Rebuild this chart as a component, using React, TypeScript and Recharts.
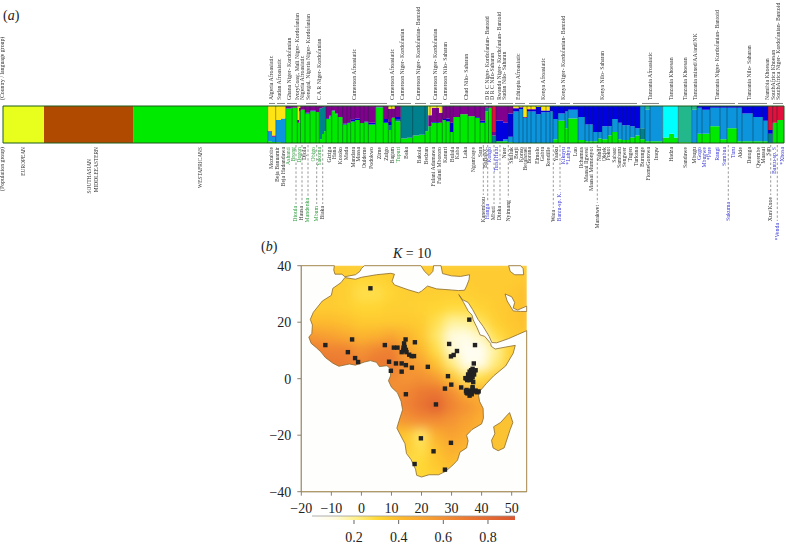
import React from 'react';
import { AreaChart, Area, XAxis, YAxis, ReferenceLine, ReferenceArea, ScatterChart, Scatter } from 'recharts';

const SERIF = '"Liberation Serif", "Times New Roman", serif';

// ---- structure bar: each row is [left edge, green, teal, lightBlue, blue, purple, yellow, cyan, seaGreen, red, lime, brown]
const seriesKeys = ['green', 'teal', 'lightBlue', 'blue', 'purple', 'yellow', 'cyan', 'seaGreen', 'red', 'lime', 'brown'];
const seriesColors = ['#00ea00', '#00808c', '#0c94dc', '#0000e0', '#82008e', '#ffe414', '#00ffff', '#22b88c', '#e2103c', '#e8ff1e', '#b04a00'];

const referenceRows = [
  [3, 0, 0, 0, 0, 0, 0, 0, 0, 0, 100, 0],
  [44, 0, 0, 0, 0, 0, 0, 0, 0, 0, 0, 100],
  [133.5, 100],
];
const northRows = [
  [267.7, 5, 0, 26, 0, 2, 67],
  [272, 3, 0, 14, 0, 3, 80],
  [275.7, 2, 0, 60, 0, 0, 38],
  [281, 0, 0, 66, 0, 0, 34],
  [285.7, 92, 2, 0, 0, 6],
  [291, 95, 0, 0, 0, 5],
  [297.3, 55, 0, 0, 0, 7, 38],
  [299, 85, 0, 0, 0, 10, 5],
  [300.5, 90, 0, 0, 0, 10],
  [305, 80, 0, 0, 2, 18],
  [310, 86, 0, 0, 2, 12],
  [316, 84, 0, 0, 0, 16],
];
const cameroonRows = [
  [319.3, 10, 84, 0, 0, 6],
  [322, 24, 71, 0, 0, 5],
  [324, 32, 66, 0, 0, 2],
  [326, 65, 0, 0, 2, 33],
  [329, 72, 0, 0, 2, 26],
  [331.7, 86, 2, 0, 0, 12],
  [335, 78, 2, 0, 0, 20],
  [338, 70, 0, 0, 0, 30],
  [342.7, 50, 0, 0, 2, 48],
  [347, 54, 0, 0, 2, 44],
  [350.7, 58, 0, 0, 6, 36],
  [355, 62, 0, 0, 4, 34],
  [360, 54, 0, 0, 0, 46],
  [364, 56, 0, 0, 2, 42],
  [368.3, 50, 0, 0, 5, 45],
  [375.7, 96, 2, 0, 0, 2],
  [383.3, 55, 0, 0, 10, 35],
  [388.3, 35, 12, 0, 10, 35, 8],
  [391.7, 68, 0, 0, 0, 25, 7],
  [395, 58, 5, 0, 7, 30],
  [400.7, 12, 88],
  [407, 14, 86],
  [412.7, 20, 80],
  [419, 22, 78],
  [425, 32, 68],
  [428.3, 45, 0, 0, 0, 30, 25],
  [431.7, 55, 0, 0, 2, 38, 5],
  [439, 55, 0, 0, 0, 27, 18],
  [442.3, 62, 0, 0, 3, 35],
  [446, 58, 0, 0, 8, 34],
];
const chadRows = [
  [450, 30, 0, 0, 25, 45],
  [453.3, 70, 0, 0, 0, 30],
  [460, 78, 0, 0, 0, 22],
  [468, 72, 0, 0, 0, 28],
  [475, 68, 0, 0, 2, 30],
  [480, 55, 0, 0, 5, 40],
  [485, 85, 10, 0, 0, 5],
  [488.5, 95, 0, 0, 0, 5],
  [492, 0, 20, 0, 0, 10, 0, 0, 0, 70],
  [496, 5, 0, 0, 55, 40],
  [503, 5, 0, 5, 45, 45],
  [508, 2, 0, 15, 63, 20],
];
const eastRows = [
  [513, 0, 0, 85, 8, 2, 5],
  [519, 0, 0, 92, 4, 2, 2],
  [523, 0, 0, 68, 0, 2, 30],
  [527, 0, 0, 85, 5, 2, 8],
  [536, 0, 0, 78, 19, 0, 3],
  [541, 0, 0, 83, 5, 0, 12],
  [550, 0, 0, 85, 15],
  [553, 10, 0, 55, 35],
  [558, 60, 0, 20, 20],
  [565, 40, 0, 45, 15],
  [568, 66, 0, 24, 10],
  [578, 8, 0, 62, 30],
  [585, 5, 0, 45, 50],
  [593, 5, 0, 25, 70],
  [598, 12, 0, 18, 70],
  [602, 10, 0, 35, 55],
  [608, 20, 0, 25, 55],
  [612, 30, 0, 35, 35],
  [618, 10, 0, 45, 45],
  [622, 8, 0, 40, 52],
  [630, 15, 0, 30, 55],
  [635, 20, 0, 20, 60],
];
const tanzaniaRows = [
  [640, 10, 30, 60],
  [645, 5, 0, 85, 0, 0, 0, 0, 10],
  [650, 5, 0, 95],
  [662.7, 15, 0, 0, 0, 0, 0, 85],
  [669, 25, 0, 0, 0, 0, 0, 75],
  [674, 15, 0, 0, 0, 0, 0, 85],
  [678.3, 2, 0, 0, 0, 0, 0, 0, 98],
  [691.7, 0, 0, 90, 0, 0, 0, 0, 10],
  [697, 25, 0, 70, 5],
  [702, 25, 0, 65, 10],
  [710, 45, 0, 50, 5],
  [720, 10, 0, 85, 5],
  [727, 40, 0, 55, 5],
  [737, 5, 0, 90, 5],
  [742, 5, 0, 75, 20],
  [753, 5, 0, 65, 30],
  [763, 5, 0, 55, 40],
];
const southRows = [
  [768, 0, 25, 0, 10, 0, 0, 0, 0, 65],
  [772.7, 55, 0, 0, 0, 0, 0, 0, 0, 45],
  [777, 62, 0, 0, 0, 0, 0, 0, 0, 38],
  [784, 62, 0, 0, 0, 0, 0, 0, 0, 38],
];

const populationBreaks = [267.7, 275.7, 285.7, 292, 297.3, 300.5, 305, 310, 316, 319.3, 326, 331.7, 338, 342.7, 347, 350.7, 355, 360, 364, 368.3, 375.7, 383.3, 388.3, 391.7, 395, 400.7, 412.7, 425, 430, 437, 442.3, 446, 450, 453.3, 460, 468, 475, 480, 485, 488.5, 492, 496, 508, 513, 519, 523, 527, 531, 536, 541, 546, 550, 553, 558, 565, 568, 578, 585, 589, 593, 598, 602, 608, 612, 618, 622, 626, 630, 635, 640, 645, 650, 662.7, 678.3, 691.7, 697, 702, 710, 720, 727, 737, 742, 753, 763, 768, 772.7, 777];

const groupSpans = [[269, 275], [277, 285], [287, 297], [306, 317], [327, 387], [397, 411], [415, 426], [430, 442], [450, 484], [486, 492], [498, 513], [515, 525], [529, 556], [560, 570], [573, 637], [642, 659], [699, 735], [738, 767], [773, 783]];

// ---- labels above the bar
const countryTicks = [3, 271.7, 280, 289.3, 297.7, 302.7, 308.3, 320, 355, 392.3, 402.7, 418.3, 436, 446, 466.7, 487.7, 492.3, 499.3, 505, 519, 544, 564, 602.3, 650.7, 671.7, 686, 695.7, 717.3, 750, 767.3, 773.3, 779];
const countryNames = ['(Country / language group)', 'Algeria Afroasiatic', 'Sudan Afroasiatic', 'Ghana Niger- Kordofanian', 'IvoryCoast, Mali Niger- Kordofanian', 'Nigeria Afroasiatic', 'Senegal, Nigeria Niger- Kordofanian', 'C A R Niger- Kordofanian', 'Cameroon Afroasiatic', 'Cameroon Afroasiatic', 'Cameroon Niger- Kordofanian', 'Cameroon Niger- Kordofanian- Bantoid', 'Cameroon Niger- Kordofanian', 'Cameroon Nilo- Saharan', 'Chad Nilo- Saharan', 'D R C Niger- Kordofanian- Bantoid', 'D R C Nilo-Saharan', 'Rwanda Niger- Kordofanian- Bantoid', 'Sudan Nilo- Saharan', 'Ethiopia Afroasiatic', 'Kenya Afroasiatic', 'Kenya Niger- Kordofanian- Bantoid', 'Kenya Nilo- Saharan', 'Tanzania Afroasiatic', 'Tanzania Khoesan', 'Tanzania Khoesan', 'Tanzania mixed/AA/and/NK', 'Tanzania Niger- Kordofanian- Bantoid', 'Tanzania Nilo- Saharan', 'Namibia Khoesan', 'SouthAfrica Khoesan', 'SouthAfrica Niger- Kordofanian- Bantoid'];

// ---- labels below the bar
const popTicks = [3, 24, 89.3, 96.7, 200.7, 271.7, 277.3, 283.3, 288.7, 293.7, 296, 300, 302, 305, 308, 313.3, 316.7, 319.3, 322.7, 329.3, 335, 341, 346.7, 354, 359, 364.3, 371.7, 379.3, 386.7, 392.7, 398.3, 406.7, 419.3, 426.7, 433.3, 440, 446, 452.3, 457.3, 465.3, 473.3, 480.7, 483.3, 485.5, 487.7, 490, 494, 496.7, 500, 505, 508.3, 511.7, 516.7, 522, 525.7, 530, 538, 542.7, 548.3, 553.3, 556.7, 560, 564, 569, 575.3, 581.7, 586.7, 592, 597.3, 600, 604.3, 609, 614.7, 620, 625, 630.7, 636.7, 642.3, 649, 656.7, 671.7, 685.7, 695, 699.3, 704.3, 710, 717.3, 725, 728.3, 733.3, 740.7, 750, 759, 763.3, 769, 770.7, 775, 777.3, 782.3];
const popNames = ['(Population group)', 'EUROPEAN', 'SOUTHASIAN', 'MIDDLEEASTERN', 'WESTAFRICANS', 'Mozabite', 'Beja Banuamir', 'Beja Hadandawa', 'Ashanti', 'Brong', 'Dioula', 'Dogon', 'Hausa', 'Djola', 'Mandenka', 'Obigo', 'Mbum', 'Yakoma', 'Biaka', 'Giziga', 'Hana', 'Kotoko', 'Mada', 'Mandara', 'Massa', 'Ouldeme', 'Podokwo', 'Zime', 'Zulgo', 'Bagam', 'Tupuri', 'Baka', 'Bakola', 'Bedzan', 'Fulani Adamawa', 'Fulani Mbororo', 'Kanuri', 'Bulala', 'Kaba', 'Laka', 'Ngambaye', 'Sara', 'Kanembou', 'BaBaKC', 'Hanga', 'Kongo', 'Mbuti', 'Tutsi|Hutu', 'Dinka', 'Nuer', 'Nyimang', 'Shilluk', 'Burji', 'Konso', 'BetaIsrael', 'Borana', 'Elmolo', 'Gabra', 'Rendille', 'Wata', 'Yaaku', 'Bantu-sp. K.', 'Kikuyu', '*Luhya', 'Luo', 'Ilchamus', 'Maasai Ilgwesi', 'Maasai Mumonyot', 'Marakwet', 'Nandi', 'Okiek', 'Pokot', 'Sabaot', 'Samburu', 'Sengwer', 'Tugen', 'Turkana', 'Burunge', 'FiomeGorowa', 'Iraqw', 'Hadza', 'Sandawe', 'Mbugu', 'Gogo', 'Mbugwe', '*Pare', 'Rangi', 'Sumbua', 'Sukuma', 'Turu', 'Akie', 'Datoga', 'Qwembe', 'Maasai', 'San', 'Xun/Kxoe', 'Bantu-sp. S', '*Venda', '*Xhosa'];
const greenNames = ['Ashanti', 'Brong', 'Dioula', 'Dogon', 'Mandenka', 'Obigo', 'Mbum', 'Yakoma', 'Tupuri'];
const blueNames = ['Hanga', 'Kongo', 'Tutsi|Hutu', 'Bantu-sp. K.', 'Kikuyu', '*Luhya', 'Gogo', 'Mbugwe', '*Pare', 'Rangi', 'Sumbua', 'Sukuma', 'Turu', 'Bantu-sp. S', '*Venda', '*Xhosa'];
const labelDrops: Record<string, number> = { Dioula: 59, Hausa: 59, Mandenka: 51, Mbum: 59, Biaka: 59, Kanembou: 50, Hanga: 57, Mbuti: 59, Dinka: 59, Nyimang: 53, Wata: 63, 'Bantu-sp. K.': 45, Marakwet: 58, Sukuma: 55, 'Xun/Kxoe': 50, '*Venda': 76, SOUTHASIAN: 12 };

// ---- map
const heatLons = [-20, -15, -10, -5, 0, 5, 10, 15, 20, 25, 30, 35, 40, 45, 50, 55];
const heatLats = [40, 35, 30, 25, 20, 15, 10, 5, 0, -5, -10, -15, -20, -25, -30, -35, -40];
const heatValues = [
  [.34, .34, .34, .34, .34, .34, .34, .34, .34, .34, .34, .34, .34, .34, .34, .34],
  [.34, .34, .34, .33, .30, .31, .33, .34, .34, .34, .34, .34, .34, .34, .34, .36],
  [.34, .34, .34, .33, .27, .27, .31, .33, .33, .33, .33, .33, .34, .34, .36, .38],
  [.34, .34, .34, .33, .31, .31, .33, .33, .32, .31, .29, .29, .32, .34, .36, .38],
  [.40, .40, .40, .38, .35, .35, .35, .35, .34, .27, .18, .18, .26, .33, .36, .38],
  [.58, .55, .52, .48, .43, .45, .50, .44, .36, .24, .10, .08, .14, .28, .34, .36],
  [.68, .68, .66, .66, .58, .64, .68, .52, .42, .28, .12, .04, .04, .18, .32, .34],
  [.70, .72, .72, .70, .66, .72, .70, .58, .52, .38, .22, .06, .06, .22, .34, .36],
  [.62, .62, .62, .62, .62, .62, .62, .58, .60, .55, .38, .24, .28, .36, .40, .40],
  [.60, .60, .60, .60, .60, .60, .60, .64, .70, .74, .62, .46, .44, .44, .44, .44],
  [.60, .60, .60, .60, .60, .60, .60, .66, .74, .84, .66, .58, .50, .48, .46, .46],
  [.50, .50, .50, .50, .50, .50, .52, .58, .62, .62, .58, .52, .46, .44, .44, .44],
  [.40, .40, .40, .40, .40, .40, .38, .36, .24, .46, .52, .48, .42, .40, .40, .40],
  [.34, .34, .34, .34, .34, .34, .34, .34, .27, .38, .46, .42, .38, .36, .36, .36],
  [.28, .28, .28, .28, .28, .28, .28, .27, .30, .36, .40, .38, .34, .34, .34, .34],
  [.28, .28, .28, .28, .28, .28, .28, .28, .30, .32, .34, .34, .34, .34, .34, .34],
  [.28, .28, .28, .28, .28, .28, .28, .28, .30, .32, .34, .34, .34, .34, .34, .34],
];
const heatStops: [number, string][] = [[0, '#ffffff'], [0.1, '#fffbe0'], [0.2, '#fff08a'], [0.3, '#ffd834'], [0.4, '#fdbb2e'], [0.5, '#f9a632'], [0.6, '#f39034'], [0.7, '#ec7a32'], [0.8, '#e46a32'], [0.92, '#da5630']];

// sea outline, walks the Mediterranean, the African coast and the Red Sea, then closes along the frame
const seaOutline = [
  [-20, 40], [-9, 40], [-9.2, 38.5], [-8.8, 37], [-6.5, 37], [-5.5, 36.1], [-2, 36.8], [-0.5, 38], [0, 39], [1, 40],
  [19.8, 40], [21, 38], [22.5, 36.5], [23.8, 38], [24, 40], [26.5, 40], [27, 37.2], [30, 36.4], [33, 36.2], [36, 36.8],
  [35.8, 35], [35, 32.8], [34.3, 31.3], [32.3, 31.2], [30, 31.4], [25, 31.8], [22, 32.8], [20, 31], [19, 30.4], [15.5, 31.5], [11, 33.2], [10.2, 34.5], [11, 37], [9.8, 37.3], [5, 36.8], [0, 35.9], [-2, 35.2], [-5.5, 35.8],
  [-6.8, 34], [-9.5, 32], [-10, 29.5], [-13, 27.5], [-16, 23.5], [-17, 21], [-16.3, 19], [-16.5, 16], [-17.5, 14.7], [-16.7, 12.5], [-15, 11], [-13.5, 9.5], [-12, 7.5], [-9.5, 5.5], [-7.5, 4.4], [-4, 5.2], [-2, 4.8], [1, 5.9], [3, 6.4], [5, 5.8], [6, 4.3], [8.5, 4.6], [9.7, 3.5], [9.7, 1], [9, -0.7], [10, -3], [12, -5], [13.2, -8], [13.7, -11], [12.5, -15], [11.8, -17.5], [13.5, -21], [14.5, -23], [15, -26.5], [16.5, -28.6], [18, -32], [18.4, -34.2], [20, -34.8], [22.5, -34], [25.7, -34], [28, -32.8], [30.5, -30.5], [32, -28.8], [32.8, -26], [35, -24.5], [35.5, -22], [35, -20], [36.8, -18], [40, -16], [40.6, -14], [40.5, -10.5], [39.3, -8], [39, -6], [39.6, -4.2], [41.5, -1.8], [44, 1], [48, 4.5], [50.5, 9], [51.2, 11.8], [48, 11.2], [44.5, 10.5], [43.2, 11.5], [43, 12.5], [41, 15], [39.5, 15.5], [38.5, 18], [37.2, 20.8], [36.8, 22.5], [35.5, 24], [34, 27], [32.4, 29.8],
  [33.6, 28], [35.5, 27], [37, 24.5], [38.8, 21], [40.5, 18.5], [42.5, 15], [43.4, 12.8], [45, 12.7], [49, 14.2], [52, 15.6], [55, 17],
  [55, -40], [-20, -40], [-20, 40],
];
const madagascarOutline = [[49.3, -12], [50.4, -15.5], [49.5, -18], [47.5, -24.5], [45.5, -25.5], [43.8, -24.5], [43.3, -21.8], [44.4, -19.5], [44, -17], [46.3, -15.5], [48, -13.5], [49.3, -12]];
const gulfOutline = [[47.8, 30], [50, 29], [51, 27], [50.5, 25], [52, 24.3], [55, 25.7], [55, 23.8], [53, 23.8], [50.5, 24], [48.5, 27.5], [47.8, 30]];
const caspianOutline = [[49, 40], [49.5, 38], [51, 36.8], [54, 36.8], [53.8, 39], [53, 40], [49, 40]];

const samplingSites = [
  [3, 32], [35.9, 20.9], [-3.1, 13.9], [-12, 11.9], [-4.5, 9.4], [-2.1, 7.3], [-1.1, 5.9], [7.8, 11.9], [9.2, 6], [9.8, 2.8], [11.5, 5.4], [13.4, 5.4], [14.8, 4.8], [13.4, 2.5], [16.8, 3.9], [22.1, 4.2], [10.8, 11], [12, 11], [14.7, 13.9], [17.8, 12.9],
  [14.2, 12.5], [14.4, 11.2], [13.9, 10], [13.4, 9.4], [15, 9.4], [15.9, 8.5], [16.7, 8], [17.5, 8], [14, 11], [14.8, 10.2],
  [29.2, 12.3], [31.8, 9.8], [30.7, 8.4], [29.8, 7.9], [37.8, 11.9], [37.4, 5.4], [28.8, 0.9], [29.9, -2.1], [27.8, -3.5], [33.2, -3.1], [14.8, -5.5], [24.8, -9.1], [19.8, -21.1], [29.8, -22.7], [24, -25.7], [17.7, -30.2], [27.8, -32.2],
  [35, 0], [35.5, 0.5], [36, 1], [36.5, 0], [37, 0.5], [36, -0.5], [35.2, -0.5], [34.6, 0.2], [36.8, 1.5], [37.5, 2.8], [36.5, 3], [37, 3.5], [38, 3], [36, 2.5], [35.5, 1.5], [37.5, 1.5], [36, 0], [37.2, -1.2],
  [35, -4], [35.5, -4.5], [36, -5], [36.5, -4.2], [37, -3.5], [37.5, -4.5], [38, -4.2], [39, -4.5], [38.5, -4.8], [35.3, -5.2], [36, -6], [36.7, -5.5], [37, -3], [35, -5], [34.8, -4.4], [36.8, -4.8],
];
const lonTicks = [-20, -10, 0, 10, 20, 30, 40, 50];
const latTicks = [-40, -20, 0, 20, 40];
const barTicks = [0.2, 0.4, 0.6, 0.8];
const barEnds = [0.012, 0.921];

// ---- tables built for the library
const structureRows = [...referenceRows, ...northRows, ...cameroonRows, ...chadRows, ...eastRows, ...tanzaniaRows, ...southRows].map((r) => {
  const row: Record<string, number> = { x: r[0] };
  seriesKeys.forEach((k, i) => { row[k] = r[i + 1] ?? 0; });
  return row;
});
const toPoints = (list: number[][]) => list.map(([lon, lat]) => ({ lon, lat }));
const heatCells = heatLats.flatMap((lat, i) => heatLons.map((lon, j) => ({ lon, lat, v: heatValues[i][j] })));
const barRows = barEnds.map((v) => ({ v, h: 1 }));

function heatColor(v: number) {
  const hex = (c: string, i: number) => parseInt(c.slice(1 + i * 2, 3 + i * 2), 16);
  for (let i = 1; i < heatStops.length; i++) {
    if (v <= heatStops[i][0]) {
      const [a, ca] = heatStops[i - 1];
      const [b, cb] = heatStops[i];
      const t = (v - a) / (b - a);
      return `rgb(${[0, 1, 2].map((n) => Math.round(hex(ca, n) + (hex(cb, n) - hex(ca, n)) * t)).join(',')})`;
    }
  }
  return heatStops[heatStops.length - 1][1];
}

const TinyTop = (p: any) => (
  <text x={p.x} y={p.y - 6} transform={`rotate(-90 ${p.x} ${p.y - 6})`} fontFamily={SERIF} fontSize={5.8} fill="#333" textAnchor="start" dominantBaseline="middle">
    {countryNames[countryTicks.indexOf(p.payload.value)]}
  </text>
);
const TinyBottom = (p: any) => {
  const name = popNames[popTicks.indexOf(p.payload.value)];
  const drop = labelDrops[name] ?? 0;
  const y = p.y + 4 + drop;
  const upper = name === name.toUpperCase() && name.length > 3;
  const fill = greenNames.includes(name) ? '#2f9e3f' : blueNames.includes(name) ? '#3a3ad6' : '#333';
  return (
    <g>
      {drop > 14 && <line x1={p.x} x2={p.x} y1={p.y + 2} y2={y - 2} stroke="#555" strokeWidth={0.6} strokeDasharray="2.4 2" />}
      <text x={p.x} y={y} transform={`rotate(-90 ${p.x} ${y})`} fontFamily={SERIF} fontSize={upper ? 5.4 : 5.8} fill={fill} textAnchor="end" dominantBaseline="middle">
        {name}
      </text>
    </g>
  );
};
const minus = (v: number) => String(v).replace('-', '\u2212');
const Nothing = () => <g />;
const HeatCell = (p: any) => <rect x={p.cx - 8} y={p.cy - 7.5} width={16} height={15} fill={heatColor(p.payload?.v ?? p.v)} />;
const SiteMark = (p: any) => <rect x={p.cx - 2.2} y={p.cy - 2.2} width={4.4} height={4.4} fill="#222" />;
const axisText = { fontFamily: SERIF, fontSize: 14, fill: '#222' };
const note = (x: number, y: number): React.CSSProperties => ({ position: 'absolute', left: x, top: y, fontFamily: SERIF, fontSize: 14, color: '#222', lineHeight: '16px', whiteSpace: 'nowrap' });

export default function App() {
  return (
    <div style={{ position: 'absolute', left: 0, top: 0, width: 786, height: 545, background: '#fff', overflow: 'hidden' }}>
      <style>{`.heatLayer { filter: blur(5.5px); clip-path: url(#mapFrame); }`}</style>
      <svg width={0} height={0} style={{ position: 'absolute' }}>
        <defs>
          <clipPath id="mapFrame"><rect x={41.3} y={15.7} width={225.4} height={226} /></clipPath>
          <linearGradient id="barFill" x1="0" x2="1" y1="0" y2="0">
            {heatStops.map(([v, c]) => <stop key={v} offset={v / 0.92} stopColor={c} />)}
          </linearGradient>
        </defs>
      </svg>

      <div style={{ position: 'absolute', left: 0, top: 0, filter: 'blur(0.3px)' }}>
        <AreaChart width={786} height={240} data={structureRows} margin={{ top: 105, right: 2, bottom: 96, left: 3 }}>
          <XAxis dataKey="x" type="number" domain={[3, 784]} hide height={0} />
          <XAxis xAxisId="top" dataKey="x" orientation="top" type="number" domain={[3, 784]} ticks={countryTicks} interval={0} height={1} axisLine={false} tickLine={false} tickSize={0} tickMargin={0} tick={TinyTop} />
          <XAxis xAxisId="bottom" dataKey="x" orientation="bottom" type="number" domain={[3, 784]} ticks={popTicks} interval={0} height={1} axisLine={false} tickLine={false} tickSize={0} tickMargin={0} tick={TinyBottom} />
          <YAxis type="number" domain={[0, 100]} hide allowDataOverflow />
          {seriesKeys.map((k, i) => (
            <Area key={k} dataKey={k} stackId="ancestry" type="stepAfter" fill={seriesColors[i]} fillOpacity={1} stroke="none" dot={false} activeDot={false} isAnimationActive={false} />
          ))}
          {populationBreaks.map((x) => <ReferenceLine key={x} x={x} stroke="#123" strokeOpacity={0.6} strokeWidth={0.7} />)}
          {groupSpans.map(([a, b]) => (
            <ReferenceLine key={a} ifOverflow="visible" stroke="#666" strokeWidth={0.8} segment={[{ x: a, y: 106.8 }, { x: b, y: 106.8 }]} />
          ))}
          <ReferenceArea x1={3} x2={784} y1={0} y2={100} fill="none" stroke="#1d5c1d" strokeWidth={1} />
        </AreaChart>
      </div>

      <div style={note(3, 8)}>(<i>a</i>)</div>
      <div style={note(261, 239)}>(<i>b</i>)</div>
      <div style={note(393, 246)}><i>K</i> = 10</div>

      <div style={{ position: 'absolute', left: 260, top: 250 }}>
        <ScatterChart width={290} height={275} margin={{ top: 15.7, right: 23.3, bottom: 3.3, left: 11.3 }}>
          <XAxis dataKey="lon" type="number" domain={[-20, 55]} ticks={lonTicks} interval={0} height={30} tick={axisText} tickFormatter={minus} stroke="#8a8070" tickSize={4} tickMargin={7} />
          <YAxis dataKey="lat" type="number" domain={[-40, 40]} ticks={latTicks} interval={0} width={30} tick={axisText} tickFormatter={minus} stroke="#8a8070" tickSize={4} tickMargin={6} />
          <Scatter className="heatLayer" data={heatCells} shape={HeatCell} isAnimationActive={false} />
          <Scatter data={toPoints(seaOutline)} shape={Nothing} line={{ stroke: '#8a6a2e', strokeWidth: 0.8, fill: '#fefefc' }} isAnimationActive={false} />
          <Scatter data={toPoints(madagascarOutline)} shape={Nothing} line={{ stroke: '#8a6a2e', strokeWidth: 0.8, fill: '#fbc232' }} isAnimationActive={false} />
          <Scatter data={toPoints(gulfOutline)} shape={Nothing} line={{ stroke: '#8a6a2e', strokeWidth: 0.8, fill: '#fefefc' }} isAnimationActive={false} />
          <Scatter data={toPoints(caspianOutline)} shape={Nothing} line={{ stroke: '#8a6a2e', strokeWidth: 0.8, fill: '#fefefc' }} isAnimationActive={false} />
          <Scatter data={toPoints(samplingSites)} shape={SiteMark} isAnimationActive={false} />
        </ScatterChart>
      </div>

      <div style={{ position: 'absolute', left: 300, top: 510 }}>
        <AreaChart width={230} height={34} data={barRows} margin={{ top: 6, right: 15, bottom: 0, left: 12 }}>
          <XAxis dataKey="v" type="number" domain={barEnds} ticks={barTicks} interval={0} height={24} tick={axisText} axisLine={false} stroke="#666" tickSize={4} tickMargin={8} />
          <YAxis type="number" domain={[0, 1]} hide />
          <Area dataKey="h" type="linear" fill="url(#barFill)" fillOpacity={1} stroke="#999" strokeWidth={0.8} dot={false} activeDot={false} isAnimationActive={false} />
        </AreaChart>
      </div>
    </div>
  );
}
